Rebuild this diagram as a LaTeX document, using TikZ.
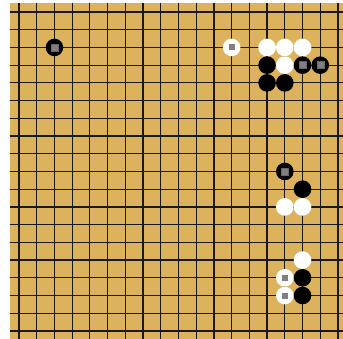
\documentclass[tikz,border=0pt]{standalone}
\definecolor{boardc}{RGB}{220,179,92}
\definecolor{markc}{RGB}{128,128,128}
\tikzset{
  gridline/.style={line width=1.2pt,draw=black!90},
  bstone/.style={circle,fill=black,inner sep=0pt,minimum size=17.6pt},
  wstone/.style={circle,fill=white,inner sep=0pt,minimum size=17.6pt},
  bmark/.style={fill=markc,draw=black!60,line width=0.4pt,inner sep=0pt,minimum size=7pt},
  wmark/.style={fill=markc,inner sep=0pt,minimum size=6pt}
}
\begin{document}
\begin{tikzpicture}[x=1pt,y=-1pt]
\useasboundingbox (0,0) rectangle (343,339);
\fill[boardc] (9.5,3) rectangle (343,339);
\foreach \k in {0,...,18}{
  \draw[gridline] ({19+17.72*\k},3) -- ({19+17.72*\k},339);
  \draw[gridline] (9.5,{12+17.72*\k}) -- (343,{12+17.72*\k});
}
% black stones
\foreach \c/\r [count=\i] in {15/4,15/5,16/5,17/11,17/16,17/17}{
  \node[bstone] (b\i) at ({19+17.72*(\c-1)},{12+17.72*(\r-1)}) {};
}
% marked black stones
\foreach \c/\r [count=\i] in {3/3,17/4,18/4,16/10}{
  \node[bstone] (mb\i) at ({19+17.72*(\c-1)},{12+17.72*(\r-1)}) {};
  \node[bmark] at (mb\i) {};
}
% white stones
\foreach \c/\r [count=\i] in {15/3,16/3,17/3,16/4,16/12,17/12,17/15}{
  \node[wstone] (w\i) at ({19+17.72*(\c-1)},{12+17.72*(\r-1)}) {};
}
% marked white stones
\foreach \c/\r [count=\i] in {13/3,16/16,16/17}{
  \node[wstone] (mw\i) at ({19+17.72*(\c-1)},{12+17.72*(\r-1)}) {};
  \node[wmark] at (mw\i) {};
}
\end{tikzpicture}
\end{document}
